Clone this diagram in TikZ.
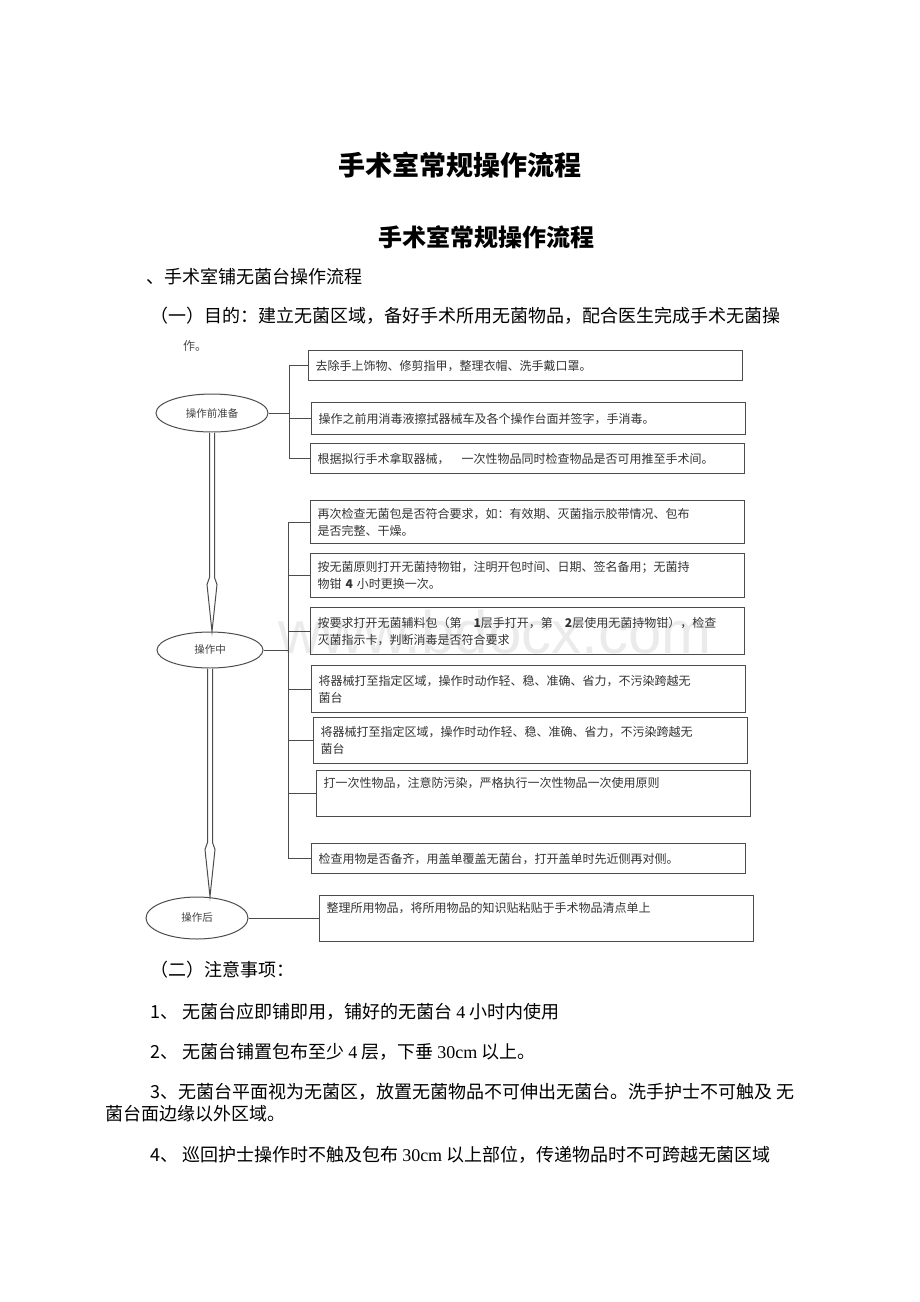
\documentclass[tikz,border=0pt]{standalone}
\usepackage{fontspec}
\setmainfont{Noto Sans CJK SC}
\newfontfamily\latinfont{Liberation Serif}
\newfontfamily\markfont{Liberation Sans}
\usetikzlibrary{shapes.geometric,positioning,calc}
\XeTeXlinebreaklocale "zh"

\tikzset{
    stage/.style={ellipse, draw=black!70, line width=1pt, minimum width=112pt,
        minimum height=38pt, inner sep=0pt, text=black!75,
        font=\fontsize{10.5}{12}\selectfont},
    taskbox/.style={draw=black!70, line width=1.3pt, anchor=north west,
        text width=420pt, inner xsep=7pt, align=left, text=black!80,
        font=\fontsize{12}{17}\selectfont},
    branch/.style={draw=black!70, line width=1pt},
    bodytext/.style={anchor=west, inner sep=0pt, font=\fontsize{18}{20}\selectfont}
}

% double shaft with a long open head
\newcommand{\stagearrow}[2]{%
    \draw[branch, fill=white]
        ($(#1.south)+(-2.5,0)$) -- ($(#1.south |- #2.north)+(-2.5,-54)$)
        -- ($(#1.south |- #2.north)+(-5,-47)$) -- (#1.south |- #2.north)
        -- ($(#1.south |- #2.north)+(5,-47)$) -- ($(#1.south |- #2.north)+(2.5,-54)$)
        -- ($(#1.south)+(2.5,0)$);
}

\begin{document}
\begin{tikzpicture}[x=1pt, y=-1pt]
    \useasboundingbox (0,0) rectangle (920,1302);

    % headings
    \node[font=\fontsize{27}{30}\selectfont\bfseries] (title) at (460,165) {手术室常规操作流程};
    \node[font=\fontsize{24}{26}\selectfont\bfseries] (subtitle) at (486,237) {手术室常规操作流程};
    \node[bodytext] (sec) at (146,277) {、手术室铺无菌台操作流程};
    \node[bodytext] (aim) at (150,316) {（一）目的：建立无菌区域，备好手术所用无菌物品，配合医生完成手术无菌操};
    \node[anchor=west, inner sep=0pt, text=black!70, font=\fontsize{12}{14}\selectfont] (aimend) at (183,346) {作。};

    % watermark
    \node[text=black!8, font=\markfont\fontsize{60}{60}\selectfont] (mark) at (495,632) {www.bdocx.com};

    % stages
    \node[stage] (prep) at (212,413) {操作前准备};
    \node[stage, minimum width=106pt, minimum height=36pt] (mid) at (210,650) {操作中};
    \node[stage, minimum width=102pt, minimum height=42pt] (post) at (197,918) {操作后};

    % before
    \node[taskbox, minimum height=30pt] (p1) at (308,350) {去除手上饰物、修剪指甲，整理衣帽、洗手戴口罩。};
    \node[taskbox, minimum height=32pt] (p2) at (311,402) {操作之前用消毒液擦拭器械车及各个操作台面并签字，手消毒。};
    \node[taskbox, minimum height=30pt] (p3) at (310,443) {根据拟行手术拿取器械，\quad 一次性物品同时检查物品是否可用推至手术间。};

    % during
    \node[taskbox, minimum height=43pt] (m1) at (310,500) {再次检查无菌包是否符合要求，如：有效期、灭菌指示胶带情况、包布\\是否完整、干燥。};
    \node[taskbox, minimum height=44pt] (m2) at (310,553) {按无菌原则打开无菌持物钳，注明开包时间、日期、签名备用；无菌持\\物钳 \textbf{4} 小时更换一次。};
    \node[taskbox, minimum height=47pt] (m3) at (310,607) {按要求打开无菌辅料包（第\quad\textbf{1}层手打开，第\quad\textbf{2}层使用无菌持物钳），检查\\灭菌指示卡，判断消毒是否符合要求};
    \node[taskbox, minimum height=47pt] (m4) at (311,665) {将器械打至指定区域，操作时动作轻、稳、准确、省力，不污染跨越无\\菌台};
    \node[taskbox, minimum height=46pt] (m5) at (313,717) {将器械打至指定区域，操作时动作轻、稳、准确、省力，不污染跨越无\\菌台};
    \node[taskbox, minimum height=46pt] (m6) at (316,770) {打一次性物品，注意防污染，严格执行一次性物品一次使用原则\\[6pt]\mbox{}};
    \node[taskbox, minimum height=30pt] (m7) at (311,843) {检查用物是否备齐，用盖单覆盖无菌台，打开盖单时先近侧再对侧。};

    % after
    \node[taskbox, minimum height=46pt] (a1) at (319,895) {整理所用物品，将所用物品的知识贴粘贴于手术物品清点单上\\[6pt]\mbox{}};

    % connectors
    \draw[branch] (prep.east) -- +(21,0) coordinate (j1);
    \draw[branch] (p1.west) -- (p1.west -| j1) -- (p3.west -| j1) -- (p3.west);
    \draw[branch] (p2.west) -- (p2.west -| j1);

    \draw[branch] (mid.east) -- +(25,0) coordinate (j2);
    \draw[branch] (m1.west) -- (m1.west -| j2) -- (m7.west -| j2) -- (m7.west);
    \foreach \n in {m2,m3,m4,m5,m6}
        \draw[branch] (\n.west) -- (\n.west -| j2);

    \draw[branch] (post.east) -- (post.east -| a1.west);

    \stagearrow{prep}{mid}
    \stagearrow{mid}{post}

    % notes
    \node[bodytext] (notes) at (150,970) {（二）注意事项：};
    \node[bodytext] (n1) at (150,1012) {1、 无菌台应即铺即用，铺好的无菌台 {\latinfont 4} 小时内使用};
    \node[bodytext] (n2) at (150,1052) {2、 无菌台铺置包布至少 {\latinfont 4} 层，下垂 {\latinfont 30cm} 以上。};
    \node[bodytext] (n3) at (150,1092) {3、无菌台平面视为无菌区，放置无菌物品不可伸出无菌台。洗手护士不可触及 无};
    \node[bodytext] (n3b) at (105,1114) {菌台面边缘以外区域。};
    \node[bodytext] (n4) at (150,1155) {4、 巡回护士操作时不触及包布 {\latinfont 30cm} 以上部位，传递物品时不可跨越无菌区域};
\end{tikzpicture}
\end{document}
